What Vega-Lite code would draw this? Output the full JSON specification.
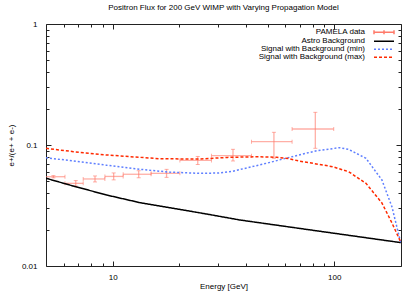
{
  "$schema": "https://vega.github.io/schema/vega-lite/v6.json",
  "width": 355,
  "height": 242,
  "autosize": "none",
  "padding": {"left": 46, "top": 24, "right": 14, "bottom": 25},
  "title": {"text": "Positron Flux for 200 GeV WIMP with Varying Propagation Model", "fontSize": 8, "font": "Liberation Sans", "fontWeight": "normal", "color": "#000", "offset": 8, "anchor": "middle"},
  "config": {
    "view": {"stroke": "#222", "strokeWidth": 1},
    "axis": {"grid": false, "domain": false, "labelFont": "Liberation Sans", "labelFontSize": 8, "labelColor": "#000", "titleFont": "Liberation Sans", "titleFontSize": 8, "titleFontWeight": "normal", "titleColor": "#000", "tickColor": "#222", "tickWidth": 1, "labelFlush": false}
  },
  "datasets": {
    "pamela": [
      {"E": 5.4, "v": 0.0547, "Elo": 4.7, "Ehi": 6.09, "vlo": 0.0535, "vhi": 0.0559},
      {"E": 6.81, "v": 0.0482, "Elo": 6.09, "Ehi": 7.36, "vlo": 0.0458, "vhi": 0.0508},
      {"E": 8.32, "v": 0.0524, "Elo": 7.36, "Ehi": 9.22, "vlo": 0.0495, "vhi": 0.0555},
      {"E": 10.1, "v": 0.055, "Elo": 9.22, "Ehi": 11.15, "vlo": 0.0515, "vhi": 0.0588},
      {"E": 13.1, "v": 0.0573, "Elo": 11.15, "Ehi": 14.9, "vlo": 0.0536, "vhi": 0.0613},
      {"E": 17.5, "v": 0.0583, "Elo": 14.9, "Ehi": 20.1, "vlo": 0.054, "vhi": 0.0629},
      {"E": 24.2, "v": 0.0745, "Elo": 20.1, "Ehi": 27.9, "vlo": 0.069, "vhi": 0.0804},
      {"E": 34.9, "v": 0.0816, "Elo": 27.9, "Ehi": 42.3, "vlo": 0.0738, "vhi": 0.0921},
      {"E": 53.4, "v": 0.1065, "Elo": 42.3, "Ehi": 64.5, "vlo": 0.0776, "vhi": 0.1273},
      {"E": 82.1, "v": 0.1356, "Elo": 64.5, "Ehi": 99.4, "vlo": 0.0939, "vhi": 0.1862}
    ],
    "curves": [
      {"series": "Astro Background", "E": 5, "v": 0.0531},
      {"series": "Astro Background", "E": 6.64, "v": 0.0458},
      {"series": "Astro Background", "E": 9.39, "v": 0.0386},
      {"series": "Astro Background", "E": 13.25, "v": 0.0334},
      {"series": "Astro Background", "E": 18.74, "v": 0.03},
      {"series": "Astro Background", "E": 26.5, "v": 0.0269},
      {"series": "Astro Background", "E": 37.5, "v": 0.024},
      {"series": "Astro Background", "E": 85.5, "v": 0.0194},
      {"series": "Astro Background", "E": 200, "v": 0.0156},
      {"series": "Signal with Background (min)", "E": 5, "v": 0.0785},
      {"series": "Signal with Background (min)", "E": 6.64, "v": 0.0738},
      {"series": "Signal with Background (min)", "E": 9.39, "v": 0.068},
      {"series": "Signal with Background (min)", "E": 13.25, "v": 0.063},
      {"series": "Signal with Background (min)", "E": 18, "v": 0.0597},
      {"series": "Signal with Background (min)", "E": 24.7, "v": 0.0583},
      {"series": "Signal with Background (min)", "E": 30, "v": 0.0587},
      {"series": "Signal with Background (min)", "E": 34.8, "v": 0.0607},
      {"series": "Signal with Background (min)", "E": 49.4, "v": 0.0706},
      {"series": "Signal with Background (min)", "E": 62.8, "v": 0.0791},
      {"series": "Signal with Background (min)", "E": 83.2, "v": 0.0897},
      {"series": "Signal with Background (min)", "E": 105.6, "v": 0.095},
      {"series": "Signal with Background (min)", "E": 116, "v": 0.0921},
      {"series": "Signal with Background (min)", "E": 139, "v": 0.0776},
      {"series": "Signal with Background (min)", "E": 164, "v": 0.0514},
      {"series": "Signal with Background (min)", "E": 182, "v": 0.0309},
      {"series": "Signal with Background (min)", "E": 198, "v": 0.0164},
      {"series": "Signal with Background (min)", "E": 200, "v": 0.0156},
      {"series": "Signal with Background (max)", "E": 5, "v": 0.0939},
      {"series": "Signal with Background (max)", "E": 6.64, "v": 0.0881},
      {"series": "Signal with Background (max)", "E": 9.39, "v": 0.0827},
      {"series": "Signal with Background (max)", "E": 13.25, "v": 0.0791},
      {"series": "Signal with Background (max)", "E": 16.3, "v": 0.077},
      {"series": "Signal with Background (max)", "E": 24.7, "v": 0.0765},
      {"series": "Signal with Background (max)", "E": 33, "v": 0.079},
      {"series": "Signal with Background (max)", "E": 45, "v": 0.08},
      {"series": "Signal with Background (max)", "E": 55, "v": 0.0792},
      {"series": "Signal with Background (max)", "E": 62, "v": 0.0772},
      {"series": "Signal with Background (max)", "E": 70, "v": 0.0735},
      {"series": "Signal with Background (max)", "E": 98.2, "v": 0.0662},
      {"series": "Signal with Background (max)", "E": 116, "v": 0.0602},
      {"series": "Signal with Background (max)", "E": 139, "v": 0.0482},
      {"series": "Signal with Background (max)", "E": 164, "v": 0.0332},
      {"series": "Signal with Background (max)", "E": 182, "v": 0.0227},
      {"series": "Signal with Background (max)", "E": 200, "v": 0.0156}
    ]
  },
  "layer": [
    {
      "data": {"name": "pamela"},
      "mark": {"type": "rule", "color": "#ff7a6a", "opacity": 0.6, "strokeWidth": 1.3, "clip": true},
      "encoding": {
        "x": {"field": "Elo", "type": "quantitative", "scale": {"type": "log", "domain": [5, 200], "nice": false}, "axis": {"orient": "bottom", "values": [6, 7, 8, 9, 20, 30, 40, 50, 60, 70, 80, 90], "tickSize": -3, "labels": false, "title": null}},
        "x2": {"field": "Ehi"},
        "y": {"field": "v", "type": "quantitative", "scale": {"type": "log", "domain": [0.01, 1], "nice": false}, "axis": {"orient": "left", "values": [0.02, 0.03, 0.04, 0.05, 0.06, 0.07, 0.08, 0.09, 0.2, 0.3, 0.4, 0.5, 0.6, 0.7, 0.8, 0.9], "tickSize": -3, "labels": false, "title": null}}
      }
    },
    {
      "data": {"name": "pamela"},
      "mark": {"type": "rule", "color": "#ff7a6a", "opacity": 0.6, "strokeWidth": 1.3, "clip": true},
      "encoding": {
        "x": {"field": "E", "type": "quantitative", "scale": {"type": "log", "domain": [5, 200], "nice": false}, "axis": {"orient": "top", "values": [10, 100], "tickSize": -5, "labels": false, "title": null}},
        "y": {"field": "vlo", "type": "quantitative", "scale": {"type": "log", "domain": [0.01, 1], "nice": false}, "axis": {"orient": "right", "values": [0.01, 0.1, 1], "tickSize": -5, "labels": false, "title": null}},
        "y2": {"field": "vhi"}
      }
    },
    {
      "data": {"name": "pamela"},
      "transform": [{"fold": ["Elo", "Ehi"], "as": ["k", "cx"]}],
      "mark": {"type": "tick", "orient": "vertical", "color": "#ff7a6a", "opacity": 0.6, "size": 4, "thickness": 1, "clip": true},
      "encoding": {
        "x": {"field": "cx", "type": "quantitative", "scale": {"type": "log", "domain": [5, 200], "nice": false}, "axis": {"orient": "top", "values": [6, 7, 8, 9, 20, 30, 40, 50, 60, 70, 80, 90], "tickSize": -3, "labels": false, "title": null}},
        "y": {"field": "v", "type": "quantitative", "scale": {"type": "log", "domain": [0.01, 1], "nice": false}, "axis": {"orient": "right", "values": [0.02, 0.03, 0.04, 0.05, 0.06, 0.07, 0.08, 0.09, 0.2, 0.3, 0.4, 0.5, 0.6, 0.7, 0.8, 0.9], "tickSize": -3, "labels": false, "title": null}}
      }
    },
    {
      "data": {"name": "pamela"},
      "transform": [{"fold": ["vlo", "vhi"], "as": ["k", "cy"]}],
      "mark": {"type": "tick", "orient": "horizontal", "color": "#ff7a6a", "opacity": 0.6, "size": 4, "thickness": 1, "clip": true},
      "encoding": {
        "x": {"field": "E", "type": "quantitative", "scale": {"type": "log", "domain": [5, 200], "nice": false}, "axis": null},
        "y": {"field": "cy", "type": "quantitative", "scale": {"type": "log", "domain": [0.01, 1], "nice": false}, "axis": null}
      }
    },
    {
      "data": {"name": "curves"},
      "mark": {"type": "line", "strokeWidth": 1.5, "clip": true},
      "encoding": {
        "x": {"field": "E", "type": "quantitative", "scale": {"type": "log", "domain": [5, 200], "nice": false}, "axis": {"orient": "bottom", "values": [10, 100], "format": "~g", "tickSize": -5, "labelPadding": 12, "title": "Energy [GeV]", "titlePadding": 1}},
        "y": {"field": "v", "type": "quantitative", "scale": {"type": "log", "domain": [0.01, 1], "nice": false}, "axis": {"orient": "left", "values": [0.01, 0.1, 1], "format": "~g", "tickSize": -5, "labelPadding": 14, "title": "e+/(e+ + e-)", "titlePadding": 6}},
        "color": {
          "field": "series", "type": "nominal",
          "scale": {"domain": ["PAMELA data", "Astro Background", "Signal with Background (min)", "Signal with Background (max)"], "range": ["#ff7a6a", "#000000", "#5f7fff", "#ff2a00"]},
          "legend": {
            "orient": "none", "legendX": 334, "legendY": 4.2, "title": null,
            "labelAlign": "right", "labelOffset": -23, "labelFont": "Liberation Sans", "labelFontSize": 8, "labelColor": "#000", "labelLimit": 300,
            "symbolType": "M-5,0H5", "symbolSize": 16, "symbolStrokeWidth": 1.5, "rowPadding": 0,
            "encode": {"symbols": {"update": {
              "shape": {"signal": "datum.value === 'PAMELA data' ? 'M-5,0H5M-5,-1V1M5,-1V1M0,-1V1' : 'M-5,0H5'"},
              "stroke": {"signal": "datum.value === 'PAMELA data' ? '#ff7a6a' : datum.value === 'Astro Background' ? '#000000' : datum.value === 'Signal with Background (min)' ? '#5f7fff' : '#ff2a00'"},
              "strokeDash": {"signal": "datum.value === 'Signal with Background (min)' ? [2, 2] : datum.value === 'Signal with Background (max)' ? [3, 2] : [1, 0]"},
              "strokeWidth": {"value": 1.5},
              "fill": {"value": "transparent"},
              "opacity": {"value": 1}
            }}}
          }
        },
        "strokeDash": {
          "field": "series", "type": "nominal",
          "scale": {"domain": ["PAMELA data", "Astro Background", "Signal with Background (min)", "Signal with Background (max)"], "range": [[1, 0], [1, 0], [2, 2], [3, 2]]},
          "legend": null
        }
      }
    }
  ],
  "resolve": {"axis": {"x": "independent", "y": "independent"}}
}
